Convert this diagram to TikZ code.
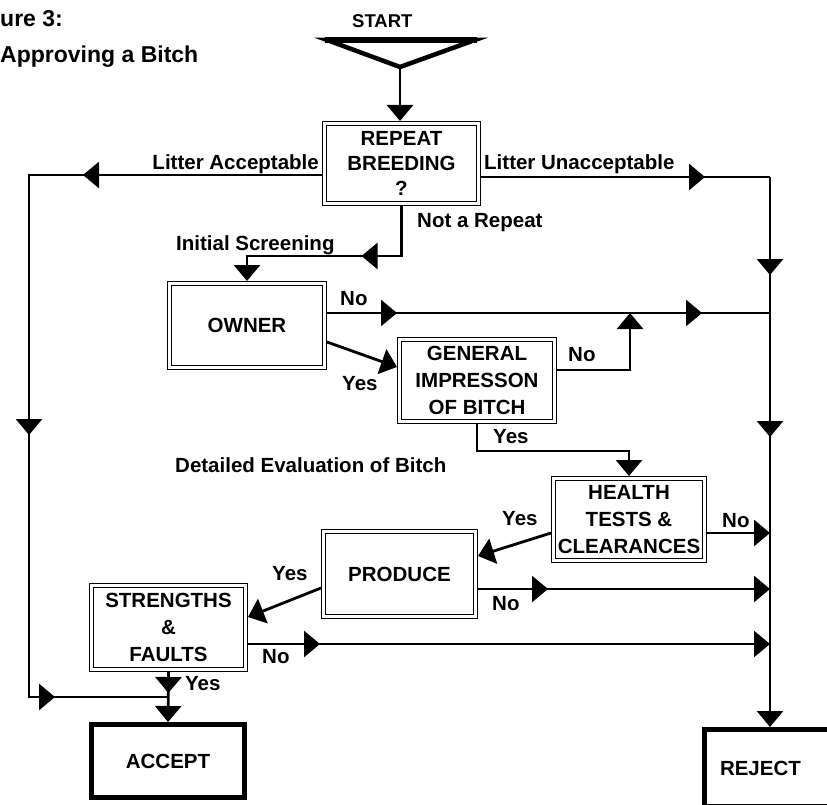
\documentclass[tikz,border=0pt]{standalone}
\usepackage{fontspec}
\setmainfont{Liberation Sans}
\usetikzlibrary{arrows.meta,decorations.markings}
\tikzset{
  conn/.style={line width=2.8pt},
  endtip/.style={-{Triangle[width=26pt,length=16pt]}},
  midarr/.style={postaction={decorate,decoration={markings,
      mark=at position #1 with {\arrow{Triangle[width=26pt,length=16pt]}}}}},
  dbox/.style={draw, line width=1.4pt, double, double distance=2.6pt,
      outer sep=2.7pt, inner sep=0pt, align=center,
      font=\bfseries\fontsize{20.5}{27}\selectfont},
  ebox/.style={draw, line width=5pt, inner sep=0pt,
      font=\bfseries\fontsize{20.5}{24}\selectfont},
  lbl/.style={inner sep=0pt, anchor=base west,
      font=\bfseries\fontsize{20.5}{24}\selectfont},
}
\begin{document}
\begin{tikzpicture}[x=1pt,y=-1pt]
\useasboundingbox (0,0) rectangle (827,805);

% title
\node[lbl, font=\bfseries\fontsize{23}{26}\selectfont] (fig) at (0,27) {ure 3:};
\node[lbl, font=\bfseries\fontsize{23}{26}\selectfont] (title) at (0,63) {Approving a Bitch};

% start
\node[lbl, font=\bfseries\fontsize{18.5}{22}\selectfont] (starttext) at (352,28) {START};
\draw[line width=4.5pt, line join=miter] (327,40) -- (475,40) -- (400,67) -- cycle;
\draw[line width=6pt] (325,40.5) -- (477,40.5);
\coordinate (apex) at (400,69);

% boxes
\node[dbox, minimum width=153.6pt, minimum height=79.6pt,
      font=\bfseries\fontsize{20.5}{25}\selectfont] (repeat) at (401.5,163.5) {REPEAT\\BREEDING\\?};
\node[dbox, minimum width=154.6pt, minimum height=83.6pt] (owner) at (247,325.5) {OWNER};
\node[dbox, minimum width=154.6pt, minimum height=81.6pt] (gi) at (477,380.5) {GENERAL\\IMPRESSON\\OF BITCH};
\node[dbox, minimum width=150.6pt, minimum height=81.6pt] (health) at (629,519.5) {HEALTH\\TESTS \&\\CLEARANCES};
\node[dbox, minimum width=151.6pt, minimum height=84.6pt] (produce) at (399.5,574) {PRODUCE};
\node[dbox, minimum width=153.6pt, minimum height=83.6pt] (strengths) at (168.5,627.5) {STRENGTHS\\\&\\FAULTS};
\node[ebox, minimum width=153pt, minimum height=73pt] (accept) at (168,761) {ACCEPT};
\node[ebox, anchor=north west, minimum height=77pt, text width=120pt,
      inner xsep=15.5pt, align=left] (reject) at (702,727) {REJECT};

% bus coordinates
\coordinate (a0) at (29,175);
\coordinate (a1) at (29,697);
\coordinate (acc) at (168,697);
\coordinate (b0) at (770,177);
\coordinate (b1) at (770,313);
\coordinate (b2) at (770,533);
\coordinate (b3) at (770,589);
\coordinate (b4) at (770,644);
\coordinate (jn) at (630,313);

% connectors
\draw[conn, endtip] (apex) -- (apex |- repeat.north);
\draw[conn, midarr=239pt, midarr=553pt, midarr=841pt]
  (repeat.west |- a0) -- (a0) -- (a1) -- (acc);
\draw[conn, midarr=224pt] (repeat.east |- b0) -- (b0);
\draw[conn, endtip, midarr=98pt, midarr=260pt] (b0) -- (b0 |- reject.north);
\draw[conn, endtip, midarr=90pt]
  (repeat.south) |- (owner.north |- 0,256) -- (owner.north);
\draw[conn, midarr=70pt, midarr=375pt] (owner.east |- b1) -- (b1);
\draw[conn, endtip] (owner.east |- 0,342) -- (gi.west |- 0,367);
\draw[conn, endtip] (gi.east |- 0,370) -| (jn);
\draw[conn, endtip] (gi.south) |- (health.north |- 0,451) -- (health.north);
\draw[conn, endtip] (health.east |- b2) -- (b2);
\draw[conn, endtip] (health.west |- b2) -- (produce.east |- 0,556);
\draw[conn, endtip, midarr=70pt] (produce.east |- b3) -- (b3);
\draw[conn, endtip] (produce.west |- 0,588) -- (strengths.east |- 0,617);
\draw[conn, endtip, midarr=72pt] (strengths.east |- b4) -- (b4);
\draw[conn, endtip, midarr=21pt] (strengths.south) -- (accept.north);

% labels
\node[lbl, anchor=base east] (lacc) at (319,170) {Litter Acceptable};
\node[lbl] (lunacc) at (484,170) {Litter Unacceptable};
\node[lbl] (lnotrep) at (417,227) {Not a Repeat};
\node[lbl] (linit) at (176,250) {Initial Screening};
\node[lbl] (ldet) at (175,472) {Detailed Evaluation of Bitch};
\node[lbl] (lno1) at (340,305) {No};
\node[lbl] (lyes1) at (342,390) {Yes};
\node[lbl] (lno2) at (568,361) {No};
\node[lbl] (lyes2) at (493,443) {Yes};
\node[lbl] (lyes3) at (502,525) {Yes};
\node[lbl] (lno3) at (722,527) {No};
\node[lbl] (lno4) at (492,610) {No};
\node[lbl] (lyes4) at (272,580) {Yes};
\node[lbl] (lno5) at (262,663) {No};
\node[lbl] (lyes5) at (185,690) {Yes};
\end{tikzpicture}
\end{document}
